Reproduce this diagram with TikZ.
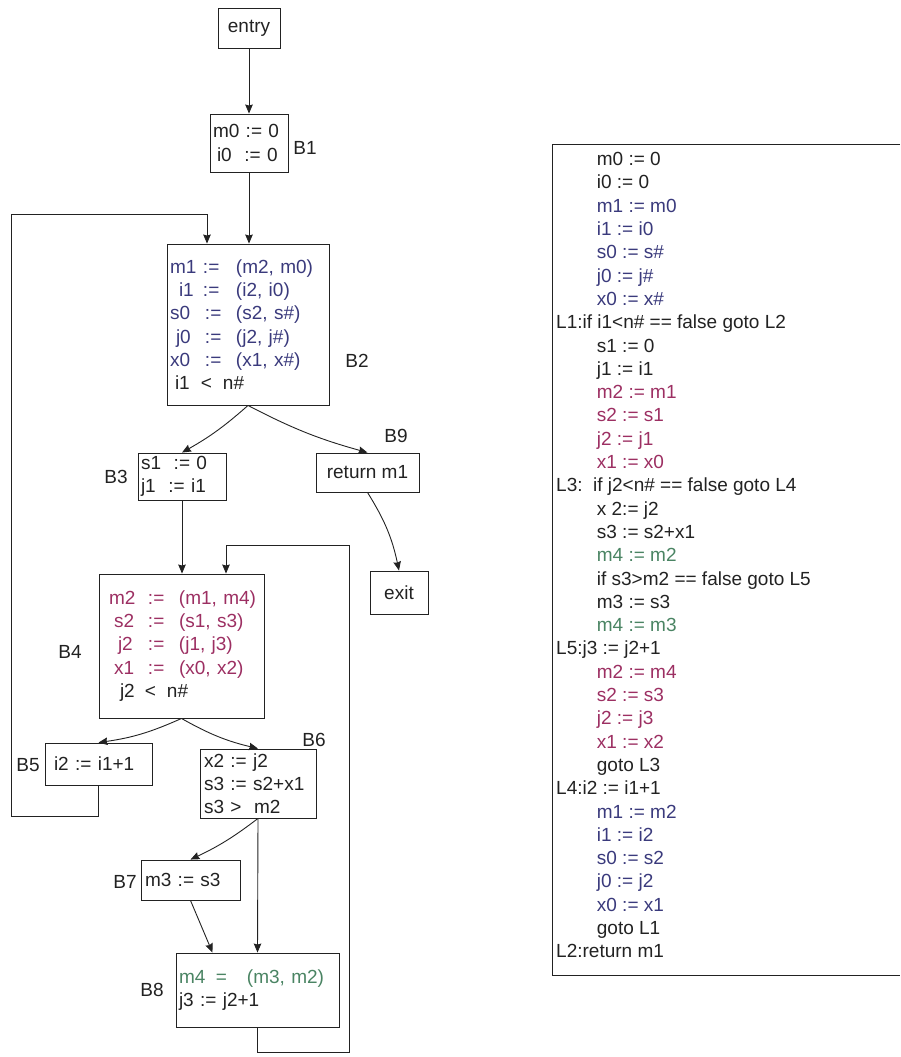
\documentclass[tikz,border=0pt]{standalone}
\usepackage{fontspec}
\setmainfont{Liberation Sans}
\usepackage{xcolor}
\usetikzlibrary{arrows.meta,calc}
\definecolor{cphi}{HTML}{3A3A7C}
\definecolor{cloop}{HTML}{9C2F62}
\definecolor{cmax}{HTML}{4A8463}
\definecolor{cink}{HTML}{222222}
\newlength{\colA}\newlength{\colB}
\newcommand{\asg}[3]{\mbox{\makebox[\colA][l]{#1}\makebox[\colB][l]{#2}#3}}
\newcommand{\ind}{\hspace*{40.7pt}}

\begin{document}
\begin{tikzpicture}[x=1pt, y=-1pt,
  font=\fontsize{19}{23.3}\selectfont, text=cink,
  blk/.style={draw=cink, line width=0.9pt, rectangle, inner ysep=0pt, align=left},
  cblk/.style={draw=cink, line width=0.9pt, rectangle, inner sep=0pt, align=center},
  arr/.style={-{Stealth[length=9pt,width=7.5pt,inset=1pt]}, line width=0.9pt, draw=cink},
  lbl/.style={inner sep=0pt}
]
\useasboundingbox (0,0) rectangle (900,1057);

% Control flow graph blocks
\node[cblk, minimum width=62pt, minimum height=40pt] (entry) at (249,28) {entry};
\node[blk, inner xsep=3pt, text width=72pt, minimum height=58pt] (b1) at (249,143)
  {m0 := 0\\\hspace*{4pt}i0\ \ := 0};
\node[blk, inner xsep=3pt, text width=156pt, minimum height=161pt] (b2) at (248,324.5)
  {\setlength{\colA}{33pt}\setlength{\colB}{33pt}%
   \textcolor{cphi}{\asg{m1}{:=}{(m2, m0)}}\\
   \textcolor{cphi}{\asg{\hspace*{9pt}i1}{:=}{(i2, i0)}}\\
   \textcolor{cphi}{\asg{s0}{\hspace*{2pt}:=}{(s2, s\#)}}\\
   \textcolor{cphi}{\asg{\hspace*{6pt}j0}{\hspace*{2pt}:=}{(j2, j\#)}}\\
   \textcolor{cphi}{\asg{x0}{\hspace*{2pt}:=}{(x1, x\#)}}\\
   \makebox[31pt][l]{\hspace*{5pt}i1}\makebox[22pt][l]{<}n\#};
\node[blk, inner xsep=3pt, text width=82pt, minimum height=47pt] (b3) at (182,476.5)
  {s1\ \ := 0\\j1\ \ := i1};
\node[cblk, minimum width=103pt, minimum height=39pt] (b9) at (367.5,472.5) {return m1};
\node[cblk, minimum width=58pt, minimum height=43pt] (exit) at (399,592.5) {exit};
\node[blk, inner xsep=10pt, text width=145pt, minimum height=144pt] (b4) at (181.5,646)
  {\setlength{\colA}{39pt}\setlength{\colB}{31pt}%
   \textcolor{cloop}{\asg{m2}{:=}{(m1, m4)}}\\
   \textcolor{cloop}{\asg{\hspace*{5pt}s2}{:=}{(s1, s3)}}\\
   \textcolor{cloop}{\asg{\hspace*{9pt}j2}{:=}{(j1, j3)}}\\
   \textcolor{cloop}{\asg{\hspace*{5pt}x1}{:=}{(x0, x2)}}\\
   \makebox[36pt][l]{\hspace*{11pt}j2}\makebox[22pt][l]{<}n\#};
\node[blk, inner xsep=9pt, text width=89pt, minimum height=42pt] (b5) at (98.5,764) {i2 := i1+1};
\node[blk, inner xsep=4pt, text width=108pt, minimum height=69pt] (b6) at (258,783.5)
  {x2 := j2\\s3 := s2+x1\\s3 >\ \ m2};
\node[blk, inner xsep=4pt, text width=91pt, minimum height=40pt] (b7) at (190.5,880) {m3 := s3};
\node[blk, inner xsep=3pt, text width=157pt, minimum height=74pt] (b8) at (257.5,990)
  {\setlength{\colA}{37pt}\setlength{\colB}{31pt}%
   \textcolor{cmax}{\asg{m4}{=}{(m3, m2)}}\\j3 := j2+1};

% Block labels
\node[lbl] (lb1) at (305,148) {B1};
\node[lbl] (lb2) at (357,361) {B2};
\node[lbl] (lb3) at (116,477) {B3};
\node[lbl] (lb9) at (396,436) {B9};
\node[lbl] (lb4) at (70,652) {B4};
\node[lbl] (lb5) at (28,765) {B5};
\node[lbl] (lb6) at (314,740) {B6};
\node[lbl] (lb7) at (125,882) {B7};
\node[lbl] (lb8) at (152,990) {B8};

% Edges
\draw[arr] (entry.south) -- (b1.north);
\draw[arr] (b1.south) -- (b1.south |- b2.north);
\draw[arr] (b2.south) to[bend left=6] (b3.north);
\draw[arr] (b2.south) to[bend right=6] (b9.north);
\draw[arr] (b9.south) to[bend left=10] (exit.north);
\draw[arr] (b3.south) -- (b3.south |- b4.north);
\draw[arr] (b4.south) to[bend left=8] (b5.north);
\draw[arr] (b4.south) to[bend right=8] (b6.north);
\draw[arr] (b6.south) to[bend left=6] (b7.north);
\draw[arr] (b6.south) -- (b8.north);
\draw[arr] (b7.south) -- ([xshift=-45pt]b8.north);

% Back edges
\coordinate (lp1) at (207,214);
\coordinate (lp2) at (226,545);
\draw[arr] (b5.south) |- (11,816) |- (lp1) -- (lp1 |- b2.north);
\draw[arr] (b8.south) |- (349,1052) |- (lp2) -- (lp2 |- b4.north);

% Linear code
\draw[draw=cink, line width=1pt] (900,144) -| (552,975) -- (900,975);
\node[anchor=north west, inner sep=0pt, align=left] (listing) at (556,152.2) {%
\ind m0 := 0\\
\ind i0 := 0\\
\ind\textcolor{cphi}{m1 := m0}\\
\ind\textcolor{cphi}{i1 := i0}\\
\ind\textcolor{cphi}{s0 := s\#}\\
\ind\textcolor{cphi}{j0 := j\#}\\
\ind\textcolor{cphi}{x0 := x\#}\\
L1:if i1<n\# == false goto L2\\
\ind s1 := 0\\
\ind j1 := i1\\
\ind\textcolor{cloop}{m2 := m1}\\
\ind\textcolor{cloop}{s2 := s1}\\
\ind\textcolor{cloop}{j2 := j1}\\
\ind\textcolor{cloop}{x1 := x0}\\
L3:\ \ if j2<n\# == false goto L4\\
\ind x 2:= j2\\
\ind s3 := s2+x1\\
\ind\textcolor{cmax}{m4 := m2}\\
\ind if s3>m2 == false goto L5\\
\ind m3 := s3\\
\ind\textcolor{cmax}{m4 := m3}\\
L5:j3 := j2+1\\
\ind\textcolor{cloop}{m2 := m4}\\
\ind\textcolor{cloop}{s2 := s3}\\
\ind\textcolor{cloop}{j2 := j3}\\
\ind\textcolor{cloop}{x1 := x2}\\
\ind goto L3\\
L4:i2 := i1+1\\
\ind\textcolor{cphi}{m1 := m2}\\
\ind\textcolor{cphi}{i1 := i2}\\
\ind\textcolor{cphi}{s0 := s2}\\
\ind\textcolor{cphi}{j0 := j2}\\
\ind\textcolor{cphi}{x0 := x1}\\
\ind goto L1\\
L2:return m1};
\end{tikzpicture}
\end{document}
